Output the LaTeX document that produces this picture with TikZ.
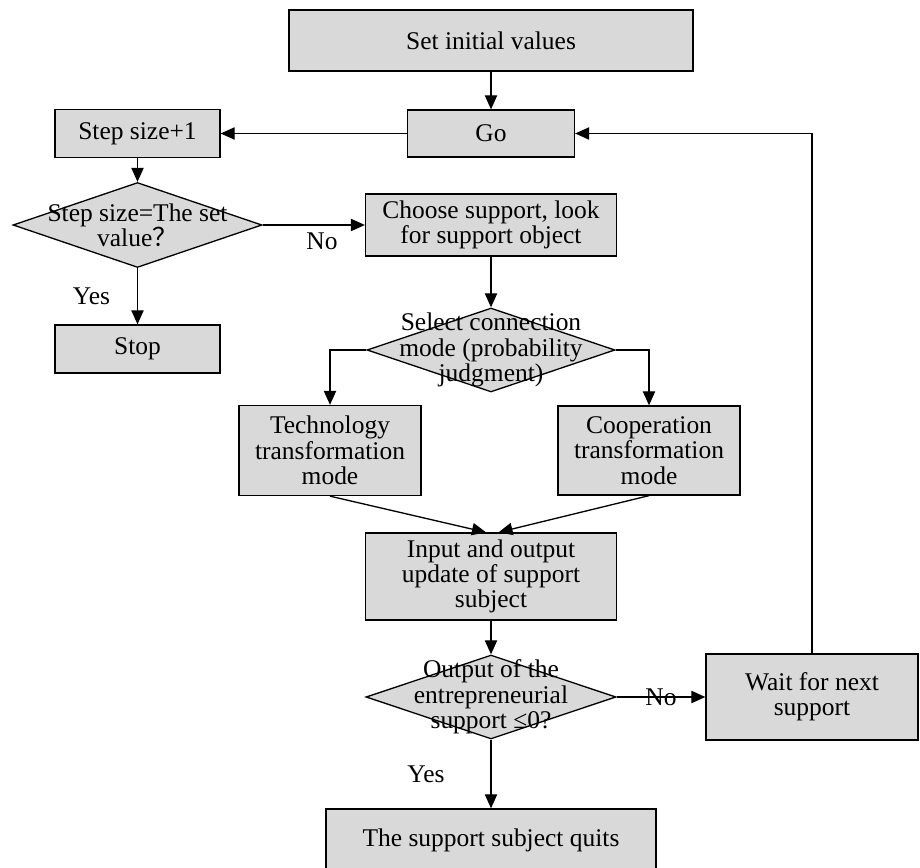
\documentclass[tikz,border=0pt]{standalone}
\usepackage{fontspec}
\setmainfont{Liberation Serif}
\newfontfamily\cjkfont{Noto Sans CJK SC}
\usepackage{xcolor}
\usepackage{tikz}
\usetikzlibrary{arrows.meta, positioning, shapes.geometric}

\definecolor{boxgray}{RGB}{217,217,217}
\newcommand{\flowsize}{\fontsize{14.5}{14.4}\selectfont}

\begin{document}
\begin{tikzpicture}[
    x=0.02cm, y=-0.02cm,
    box/.style={rectangle, draw=black, fill=boxgray, line width=0.75pt, inner sep=0pt, align=center, font=\flowsize},
    decision/.style={diamond, draw=black, fill=boxgray, line width=0.75pt, inner sep=0pt},
    dectext/.style={align=center, font=\flowsize, inner sep=0pt},
    arrow/.style={-{Triangle[length=8pt, width=7pt]}, line width=0.75pt, black},
    label/.style={font=\flowsize},
]
\useasboundingbox (0,0) rectangle (920,868);

% ===== Top: start =====
\node[box, minimum width=8.08cm, minimum height=1.22cm] (init) at (491, 40.5) {Set initial values};
\node[box, minimum width=3.34cm, minimum height=0.94cm] (go) at (491, 133.5) {Go};

% ===== Left: step counter =====
\node[box, minimum width=3.3cm, minimum height=0.96cm] (step) at (137.5, 133.5) {Step size+1};
\node[decision, minimum width=4.98cm, minimum height=1.7cm] (dec1) at (137.5, 225) {};
\node[dectext] (dec1txt) at (dec1) {Step size=The set\\value{\cjkfont ？}};
\node[box, minimum width=3.3cm, minimum height=0.96cm] (stop) at (137.5, 349) {Stop};

% ===== Middle: support choice =====
\node[box, minimum width=5.02cm, minimum height=1.24cm] (choose) at (491, 225) {Choose support, look\\for support object};
\node[decision, minimum width=4.96cm, minimum height=1.68cm] (dec2) at (491, 350) {};
\node[dectext] (dec2txt) at (dec2) {Select connection\\mode (probability\\judgment)};

\node[box, minimum width=3.64cm, minimum height=1.8cm] (tech) at (330, 450.5) {Technology\\transformation\\mode};
\node[box, minimum width=3.64cm, minimum height=1.78cm] (coop) at (649, 450.5) {Cooperation\\transformation\\mode};

% ===== Bottom: update and exit =====
\node[box, minimum width=5.02cm, minimum height=1.74cm] (update) at (491, 576.5) {Input and output\\update of support\\subject};
\node[decision, minimum width=5.0cm, minimum height=1.68cm] (dec3) at (491, 697) {};
\node[dectext] (dec3txt) at (dec3) {Output of the\\entrepreneurial\\support ≤0?};
\node[box, minimum width=4.24cm, minimum height=1.72cm] (wait) at (812, 697) {Wait for next\\support};
\node[box, minimum width=6.6cm, minimum height=1.24cm] (quit) at (491, 840) {The support subject quits};

% ===== Arrows =====
\draw[arrow] (init.south) -- (go.north);
\draw[arrow] (go.west) -- (step.east);
\draw[arrow] (step.south) -- (dec1.north);
\draw[arrow] (dec1.east) -- (choose.west) node[pos=0.58, below=1pt, label] (no1) {No};
\draw[arrow] (dec1.south) -- (stop.north) node[midway, left=0.42cm, label] (yes1) {Yes};
\draw[arrow] (choose.south) -- (dec2.north);
\draw[arrow] (dec2.west) -| (tech.north);
\draw[arrow] (dec2.east) -| (coop.north);
\draw[arrow] (tech.south) -- ([xshift=-0.1cm]update.north);
\draw[arrow] (coop.south) -- ([xshift=0.15cm]update.north);
\draw[arrow] (update.south) -- (dec3.north);
\draw[arrow] (dec3.east) -- (wait.west) node[midway, label] (no2) {No};
\draw[arrow] (dec3.south) -- (quit.north) node[midway, left=0.8cm, label] (yes2) {Yes};

% ===== Feedback loop =====
\draw[arrow] (wait.north) |- (go.east);

\end{tikzpicture}
\end{document}
